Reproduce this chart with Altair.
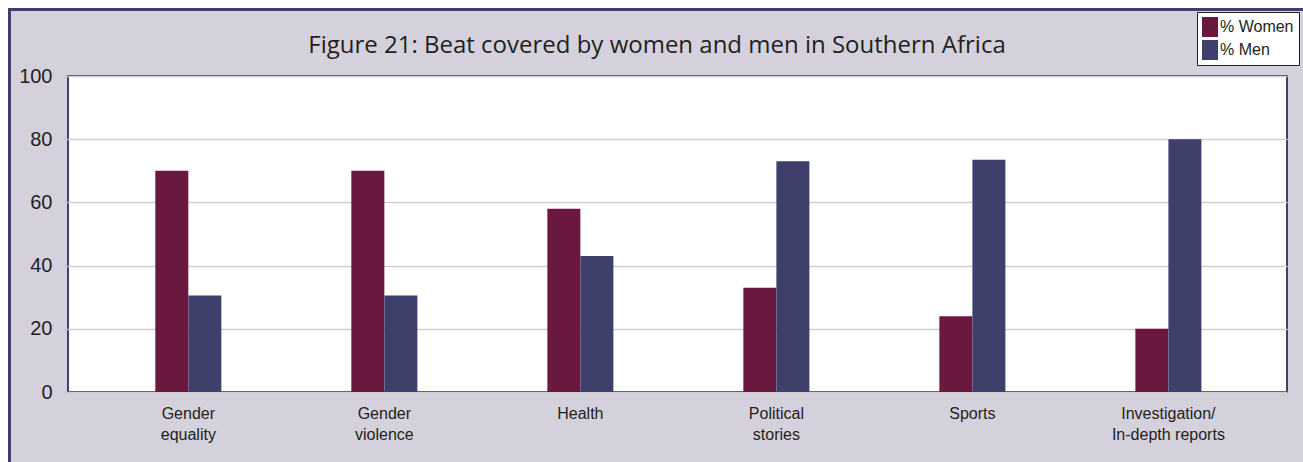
import altair as alt
import pandas as pd

# Beats covered, share of stories by reporter sex (%)
categories = [
    "Gender\nequality",
    "Gender\nviolence",
    "Health",
    "Political\nstories",
    "Sports",
    "Investigation/\nIn-depth reports",
]
women = [70, 70, 58, 33, 24, 20]
men = [30.5, 30.5, 43, 73, 73.5, 80]
series = ["% Women", "% Men"]
colors = ["#6b1841", "#3f3f6c"]
y_ticks = [0, 20, 40, 60, 80, 100]
title_text = "Figure 21: Beat covered by women and men in Southern Africa"

rows = []
for cat, w, m in zip(categories, women, men):
    rows.append({"beat": cat, "series": series[0], "value": w})
    rows.append({"beat": cat, "series": series[1], "value": m})
df = pd.DataFrame(rows)

W, H = 1219, 316
PAD = {"left": 68, "top": 76, "right": 16, "bottom": 70}
FRAME = "#3f3f6e"
TEXT = "#231f20"

bars = alt.Chart(df).mark_bar(size=33).encode(
    x=alt.X(
        "beat:N",
        sort=categories,
        title=None,
        scale=alt.Scale(paddingInner=0.663, paddingOuter=0.441, align=0.505),
        axis=alt.Axis(
            labelExpr="split(datum.label, '\\n')",
            labelAngle=0,
            labelFont="Liberation Sans",
            labelFontSize=16,
            labelColor=TEXT,
            labelLineHeight=21,
            labelBaseline="top",
            labelPadding=13,
            ticks=False,
            domain=False,
            grid=False,
        ),
    ),
    xOffset=alt.XOffset(
        "series:N", sort=series, scale=alt.Scale(paddingInner=0, paddingOuter=0)
    ),
    y=alt.Y(
        "value:Q",
        title=None,
        scale=alt.Scale(domain=[0, 100], nice=False),
        axis=alt.Axis(
            values=y_ticks,
            labelFont="Liberation Sans",
            labelFontSize=20,
            labelColor=TEXT,
            labelPadding=11,
            tickSize=5,
            tickColor="#c4c4c4",
            tickWidth=1.5,
            domain=False,
            gridColor="#cfcfcf",
            gridWidth=1.5,
        ),
    ),
    color=alt.Color(
        "series:N",
        sort=series,
        scale=alt.Scale(domain=series, range=colors),
        legend=alt.Legend(
            title=None,
            orient="none",
            legendX=1129,
            legendY=-64,
            fillColor="white",
            strokeColor=TEXT,
            padding=5,
            symbolOffset=-2,
            symbolType="M-0.8,-1H0.8V1H-0.8Z",
            symbolSize=400,
            symbolStrokeWidth=0,
            symbolOpacity=1,
            labelFont="Liberation Sans",
            labelFontSize=16,
            labelColor=TEXT,
            labelOffset=0,
            rowPadding=3,
        ),
    ),
)

one = pd.DataFrame({"k": [0]})

# white margin and dark frame lines around the lavender panel
white_top = alt.Chart(one).mark_rect(color="white").encode(
    x=alt.value(-68), x2=alt.value(1235), y=alt.value(-76), y2=alt.value(-68)
)
white_left = alt.Chart(one).mark_rect(color="white").encode(
    x=alt.value(-68), x2=alt.value(-60), y=alt.value(-76), y2=alt.value(386)
)
frame_top = alt.Chart(one).mark_rect(color=FRAME).encode(
    x=alt.value(-60), x2=alt.value(1235), y=alt.value(-68), y2=alt.value(-65)
)
frame_left = alt.Chart(one).mark_rect(color=FRAME).encode(
    x=alt.value(-60), x2=alt.value(-57), y=alt.value(-68), y2=alt.value(386)
)

title = alt.Chart(pd.DataFrame({"t": [title_text]})).mark_text(
    font="Open Sans", fontSize=24, color=TEXT, align="center", baseline="alphabetic"
).encode(text="t:N", x=alt.value(589), y=alt.value(-23))

chart = (
    alt.layer(white_top, white_left, frame_top, frame_left, bars, title)
    .properties(width=W, height=H, padding=PAD, autosize=alt.AutoSizeParams(type="none"))
    .configure(background="#d4d1dc")
    .configure_view(fill="white", stroke=FRAME, strokeWidth=2)
)

chart.save("out.html", embed_options={"renderer": "svg", "actions": False})
